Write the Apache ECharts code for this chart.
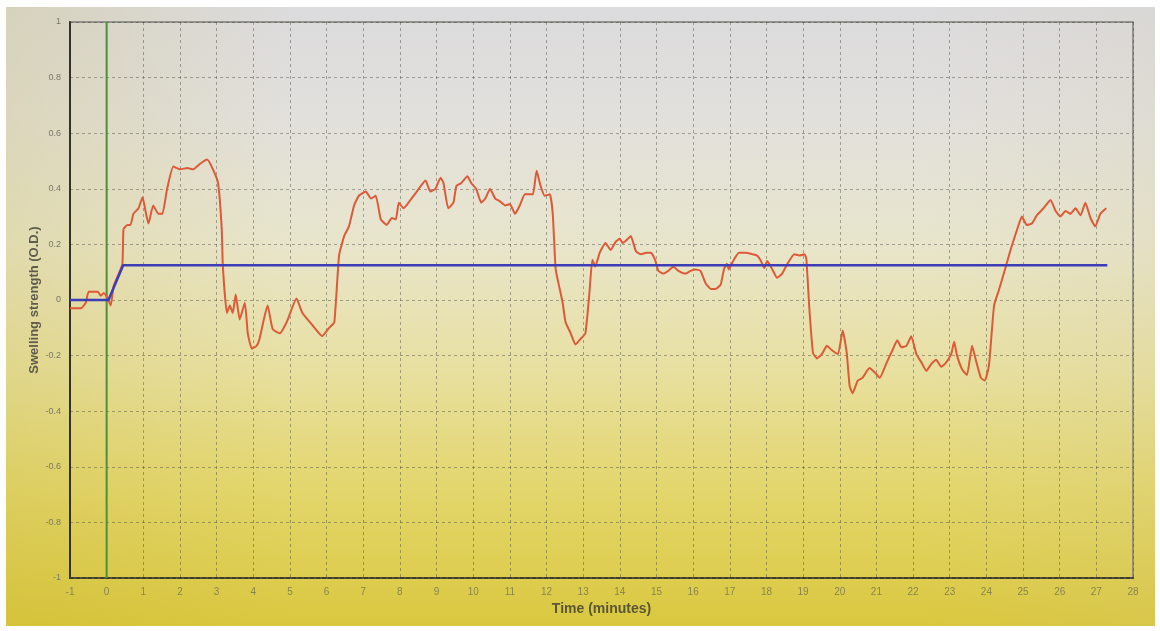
<!DOCTYPE html>
<html>
<head>
<meta charset="utf-8">
<script src="https://cdn.jsdelivr.net/npm/echarts@6/dist/echarts.min.js"></script>
<style>
  html, body { margin: 0; padding: 0; background: #ffffff; }
  #frame {
    position: absolute; left: 6px; top: 7px; width: 1149px; height: 619px;
    background: linear-gradient(180deg, #dcdbdd 0%, #e2e0dc 18%, #e8e5cc 38%, #e8e0a2 58%, #e3d66c 78%, #dac83e 100%);
  }
  #shade {
    position: absolute; left: 6px; top: 7px; width: 1149px; height: 619px;
    background: linear-gradient(90deg, rgba(190,170,40,0.18) 0%, rgba(255,255,255,0) 25%, rgba(255,255,255,0) 80%, rgba(200,190,150,0.12) 100%);
  }
  #chart { position: absolute; left: 0; top: 0; width: 1160px; height: 631px; }
</style>
</head>
<body>
<div id="frame"></div>
<div id="shade"></div>
<div id="chart"></div>
<script>
// Axis ranges and tick spacing
const timeMin = -1, timeMax = 28, timeStep = 1;
const odMin = -1, odMax = 1, odStep = 0.2;

// Time of the stimulus marker (minutes)
const markerTime = 0;

// Measured swelling strength: [time (min), O.D.]
const swellingTime = [
  -1.0, -0.70, -0.57, -0.49, -0.24, -0.16, -0.08, 0.03, 0.11, 0.19, 0.30, 0.43, 0.46, 0.57, 0.65, 0.73, 0.87, 0.98,
  1.06, 1.14, 1.27, 1.41, 1.52, 1.65, 1.82, 2.01, 2.20, 2.36, 2.55, 2.74, 2.90, 3.04, 3.14, 3.17, 3.28, 3.36,
  3.44, 3.52, 3.63, 3.77, 3.85, 3.96, 4.09, 4.17, 4.39, 4.53, 4.72, 4.91, 5.18, 5.34, 5.61, 5.88, 6.07, 6.21,
  6.34, 6.48, 6.61, 6.75, 6.88, 7.07, 7.21, 7.34, 7.48, 7.64, 7.78, 7.89, 7.97, 8.10, 8.29, 8.46, 8.70, 8.83,
  8.97, 9.11, 9.19, 9.32, 9.46, 9.54, 9.67, 9.84, 9.95, 10.08, 10.22, 10.33, 10.46, 10.60, 10.73, 10.87, 11.00,
  11.14, 11.27, 11.41, 11.54, 11.63, 11.73, 11.84, 11.95, 12.09, 12.17, 12.25, 12.36, 12.44, 12.52, 12.66,
  12.79, 12.93, 13.06, 13.17, 13.25, 13.33, 13.45, 13.61, 13.75, 13.89, 14.00, 14.08, 14.22, 14.30, 14.44,
  14.58, 14.72, 14.85, 14.96, 15.05, 15.18, 15.32, 15.46, 15.60, 15.79, 15.93, 16.06, 16.20, 16.34, 16.48,
  16.61, 16.75, 16.84, 16.92, 16.97, 17.11, 17.25, 17.44, 17.61, 17.74, 17.85, 17.94, 18.02, 18.16, 18.29,
  18.43, 18.57, 18.76, 18.90, 19.04, 19.09, 19.17, 19.27, 19.38, 19.51, 19.65, 19.78, 19.95, 20.08, 20.19,
  20.27, 20.35, 20.49, 20.62, 20.81, 20.95, 21.09, 21.28, 21.44, 21.57, 21.68, 21.82, 21.95, 22.09, 22.23,
  22.36, 22.50, 22.63, 22.77, 22.90, 23.04, 23.12, 23.20, 23.34, 23.47, 23.61, 23.72, 23.85, 23.96, 24.07,
  24.21, 24.34, 24.53, 24.67, 24.83, 24.97, 25.10, 25.24, 25.38, 25.56, 25.75, 25.89, 26.02, 26.16, 26.29,
  26.43, 26.57, 26.70, 26.84, 26.97, 27.11, 27.27
];
const swellingOD = [
  -0.03, -0.03, -0.01, 0.03, 0.03, 0.015, 0.025, 0.005, -0.02, 0.05, 0.085, 0.13, 0.255, 0.27, 0.27, 0.31, 0.33, 0.37,
  0.32, 0.275, 0.34, 0.31, 0.31, 0.40, 0.48, 0.47, 0.475, 0.47, 0.49, 0.505, 0.47, 0.42, 0.255, 0.12, -0.047, -0.02,
  -0.047, 0.02, -0.07, -0.01, -0.12, -0.175, -0.165, -0.14, -0.02, -0.105, -0.12, -0.08, 0.005, -0.047, -0.09, -0.13, -0.10, -0.08,
  0.16, 0.23, 0.265, 0.34, 0.375, 0.39, 0.365, 0.375, 0.29, 0.27, 0.295, 0.29, 0.35, 0.33, 0.36, 0.39, 0.43, 0.39,
  0.40, 0.44, 0.42, 0.33, 0.35, 0.41, 0.42, 0.445, 0.42, 0.40, 0.35, 0.365, 0.40, 0.365, 0.355, 0.34, 0.345,
  0.31, 0.34, 0.38, 0.38, 0.38, 0.465, 0.41, 0.375, 0.38, 0.31, 0.11, 0.04, -0.01, -0.08, -0.12,
  -0.16, -0.14, -0.12, 0.025, 0.145, 0.12, 0.17, 0.205, 0.18, 0.21, 0.22, 0.205, 0.22, 0.23, 0.175,
  0.165, 0.17, 0.17, 0.145, 0.105, 0.095, 0.105, 0.12, 0.105, 0.095, 0.105, 0.11, 0.105, 0.06, 0.04,
  0.04, 0.055, 0.11, 0.13, 0.11, 0.145, 0.17, 0.17, 0.165, 0.16, 0.14, 0.115, 0.14, 0.11, 0.08,
  0.095, 0.13, 0.165, 0.16, 0.165, 0.145, -0.03, -0.19, -0.21, -0.195, -0.165, -0.18, -0.195, -0.11, -0.19,
  -0.31, -0.335, -0.29, -0.28, -0.245, -0.26, -0.28, -0.225, -0.18, -0.145, -0.17, -0.165, -0.13, -0.195, -0.225,
  -0.255, -0.23, -0.215, -0.24, -0.225, -0.195, -0.15, -0.20, -0.25, -0.27, -0.165, -0.22, -0.28, -0.29, -0.235,
  -0.02, 0.035, 0.12, 0.185, 0.25, 0.30, 0.27, 0.275, 0.305, 0.33, 0.36, 0.32, 0.30, 0.32, 0.31,
  0.33, 0.305, 0.35, 0.295, 0.265, 0.31, 0.33
];

// Reference (baseline) curve: [time (min), O.D.]
const baselineTime = [-1.0, 0.05, 0.45, 27.3];
const baselineOD = [0, 0, 0.125, 0.125];

const zip = (xs, ys) => xs.map((x, i) => [x, ys[i]]);

const chart = echarts.init(document.getElementById('chart'), null, { renderer: 'canvas' });

const gridLine = { show: true, lineStyle: { color: 'rgba(70,70,60,0.45)', type: [3, 3], width: 1 } };
const font = 'Liberation Sans, Arial, sans-serif';

chart.setOption({
  backgroundColor: 'transparent',
  animation: false,
  grid: { left: 70, right: 27, top: 22, bottom: 53, show: true, borderColor: '#7d7c78', borderWidth: 1.5 },
  xAxis: {
    type: 'value', min: timeMin, max: timeMax, interval: timeStep,
    name: 'Time (minutes)', nameLocation: 'middle', nameGap: 24, nameMoveOverlap: false,
    nameTextStyle: { fontFamily: font, fontSize: 14, fontWeight: 'bold', color: '#5a5636' },
    axisLine: { show: true, onZero: false, lineStyle: { color: '#3e3c2c', width: 2, type: [4, 2] } },
    axisTick: { show: false },
    axisLabel: { fontFamily: font, fontSize: 10, color: '#8a8450', margin: 9 },
    splitLine: gridLine
  },
  yAxis: {
    type: 'value', min: odMin, max: odMax, interval: odStep,
    name: 'Swelling strength (O.D.)', nameLocation: 'middle', nameGap: 29, nameRotate: 90, nameMoveOverlap: false,
    nameTextStyle: { fontFamily: font, fontSize: 13, fontWeight: 'bold', color: '#5e5c4c' },
    axisLine: { show: true, onZero: false, lineStyle: { color: '#33332c', width: 2 } },
    axisTick: { show: false },
    axisLabel: {
      fontFamily: font, fontSize: 9, color: '#7a776a', margin: 9,
      formatter: v => (Math.abs(v) < 1e-9 ? '0' : String(Math.round(v * 10) / 10))
    },
    splitLine: gridLine
  },
  series: [
    {
      name: 'marker', type: 'line', data: [[markerTime, odMin], [markerTime, odMax]],
      showSymbol: false, lineStyle: { color: '#4f8f3a', width: 2 }, z: 2
    },
    {
      name: 'baseline', type: 'line', data: zip(baselineTime, baselineOD),
      showSymbol: false, lineStyle: { color: '#3d3db8', width: 2.5 }, z: 4
    },
    {
      name: 'swelling', type: 'line', data: zip(swellingTime, swellingOD),
      showSymbol: false, smooth: 0.15, lineStyle: { color: '#dc5a38', width: 2 }, z: 3
    }
  ]
});
</script>
</body>
</html>
